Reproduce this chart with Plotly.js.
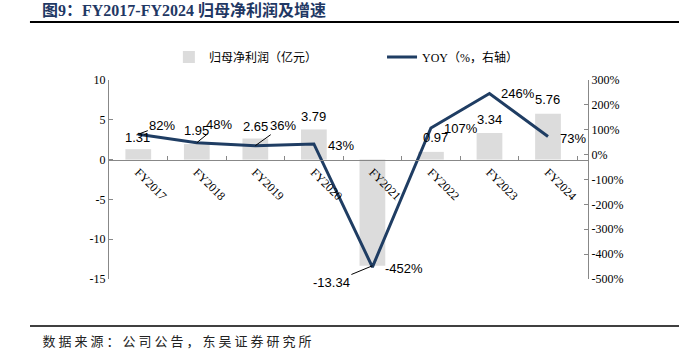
<!DOCTYPE html>
<html>
<head>
<meta charset="utf-8">
<script src="https://cdn.plot.ly/plotly-3.0.1.min.js"></script>
<style>
html,body{margin:0;padding:0;background:#fff;}
#chart{width:679px;height:357px;}
g.annotation[data-index="17"] text{letter-spacing:3px;}
</style>
</head>
<body>
<div id="chart"></div>
<script>
// ---- data ----
const categories = ['FY2017','FY2018','FY2019','FY2020','FY2021','FY2022','FY2023','FY2024'];
const netProfit = [1.31, 1.95, 2.65, 3.79, -13.34, 0.97, 3.34, 5.76];   // 亿元
const yoyPct = [82, 48, 36, 43, -452, 107, 246, 73];                   // %
const leftTickVals = [-15, -10, -5, 0, 5, 10];
const leftTickText = ['-15', '-10', '-5', '0', '5', '10'];
const rightTickVals = [-500, -400, -300, -200, -100, 0, 100, 200, 300];
const rightTickText = ['-500%', '-400%', '-300%', '-200%', '-100%', '0%', '100%', '200%', '300%'];
const barName = '归母净利润（亿元）';
const lineName = 'YOY（%，右轴）';

// ---- label placement (pixel offsets from the mark, and whether a leader line shows) ----
const barLabelOffset = [[-1,-12],[0,-14],[0,-12],[0,-13],[-41,17],[5,-14],[0,-14],[-1,-14]];
const barLabelLeader = [false,false,false,false,true,false,false,false];
const lineLabelOffset = [[24,-9],[22,-18],[28,-20],[27,2],[32,1],[30,0],[29,0],[25,2]];
const lineLabelLeader = [true,true,true,false,false,false,false,false];

const serif = 'Liberation Serif, Times New Roman, Noto Sans CJK SC, serif';
const sans = 'Liberation Sans, Arial, sans-serif';
const cjk = 'Noto Sans CJK SC, sans-serif';
const navy = '#1f3d63';

const traces = [
  {type:'bar', x:categories, y:netProfit, name:barName, yaxis:'y', legend:'legend',
   marker:{color:'#dcdcdc'}, width:0.44, hoverinfo:'none'},
  {type:'scatter', mode:'lines', x:categories, y:yoyPct, name:lineName, yaxis:'y2', legend:'legend2',
   line:{color:navy, width:3}, hoverinfo:'none'}
];

const annotations = [];
categories.forEach((c,i)=>{
  annotations.push({xref:'x', yref:'y', x:c, y:netProfit[i], text:String(netProfit[i]),
    showarrow:true, arrowhead:0, arrowwidth:1, standoff:0,
    arrowcolor: barLabelLeader[i] ? '#000' : 'rgba(0,0,0,0)',
    ax:barLabelOffset[i][0], ay:barLabelOffset[i][1],
    font:{family:sans, size:13, color:'#000'}});
  annotations.push({xref:'x', yref:'y2', x:c, y:yoyPct[i], text:yoyPct[i]+'%',
    showarrow:true, arrowhead:0, arrowwidth:1, standoff:0,
    arrowcolor: lineLabelLeader[i] ? '#000' : 'rgba(0,0,0,0)',
    ax:lineLabelOffset[i][0], ay:lineLabelOffset[i][1],
    font:{family:sans, size:13, color:'#000'}});
});
annotations.push({xref:'paper', yref:'paper', x:-0.144, y:1.352, xanchor:'left', yanchor:'middle',
  text:'<b>图9：FY2017-FY2024 归母净利润及增速</b>', showarrow:false,
  font:{family:serif, size:16, color:'#1f3864'}});
annotations.push({xref:'paper', yref:'paper', x:-0.144, y:-0.307, xanchor:'left', yanchor:'middle', xshift:26,
  text:'数据来源：公司公告，东吴证券研究所', showarrow:false,
  font:{family:cjk, size:13, color:'#222'}});

const legendFont = {family:serif + ', ' + cjk, size:12, color:'#000'};
const layout = {
  width:679, height:357,
  margin:{l:109, r:91, t:80, b:78},
  paper_bgcolor:'#fff', plot_bgcolor:'#fff',
  showlegend:true,
  legend:{orientation:'h', x:0.125, xanchor:'left', y:1.116, yanchor:'middle',
    font:legendFont, bgcolor:'rgba(0,0,0,0)'},
  legend2:{orientation:'h', x:0.57, xanchor:'left', y:1.116, yanchor:'middle',
    font:legendFont, bgcolor:'rgba(0,0,0,0)'},
  xaxis:{type:'category', anchor:'free', position:0.6, showline:true, linecolor:'#888', linewidth:1,
    ticks:'inside', ticklen:4, tickcolor:'#888', tickson:'boundaries', tickangle:45,
    tickfont:{family:serif, size:12, color:'#000'}, showgrid:false, zeroline:false, fixedrange:true},
  yaxis:{range:[-15,10], tickvals:leftTickVals, ticktext:leftTickText, showline:true, linecolor:'#888',
    ticks:'inside', ticklen:4, tickcolor:'#888', showgrid:false, zeroline:false,
    tickfont:{family:serif, size:12, color:'#000'}},
  yaxis2:{range:[-500,300], overlaying:'y', side:'right', tickvals:rightTickVals, ticktext:rightTickText,
    showline:true, linecolor:'#888', ticks:'inside', ticklen:4, tickcolor:'#888', showgrid:false, zeroline:false,
    tickfont:{family:serif, size:12, color:'#000'}},
  annotations:annotations,
  shapes:[
    {type:'line', xref:'paper', yref:'paper', x0:-0.165, x1:1.19, y0:1.291, y1:1.291, line:{color:'#000', width:2}},
    {type:'line', xref:'paper', yref:'paper', x0:-0.165, x1:1.19, y0:-0.236, y1:-0.236, line:{color:'#000', width:1.5}}
  ]
};

Plotly.newPlot('chart', traces, layout, {displayModeBar:false, staticPlot:true});
</script>
</body>
</html>
